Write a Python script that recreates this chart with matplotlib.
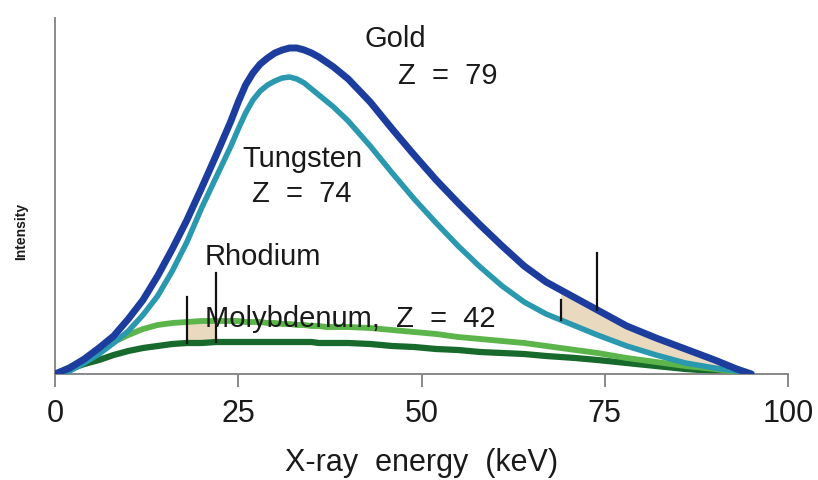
import numpy as np
import matplotlib
matplotlib.use("Agg")
import matplotlib.pyplot as plt

plt.rcParams['font.family'] = ['Liberation Sans', 'DejaVu Sans']

# energy grid (keV) and relative intensity
energy = [0, 2, 4, 6, 8, 10, 12, 14, 16, 18, 20, 22, 24, 25, 26, 27, 28, 29, 30, 31, 32, 33, 34,
          35, 36, 37, 38, 40, 43, 46, 49, 52, 55, 58, 61, 64, 67, 69, 71, 74, 78, 82, 86, 90, 93, 95]
gold = [0, 6, 15, 26, 38, 55, 74, 98, 125, 154, 186, 219, 253, 272, 289, 301, 310, 316, 321, 324, 326, 326, 324,
        321, 317, 312, 307, 295, 272, 245, 219, 194, 171, 149, 128, 108, 92, 84, 76, 64, 48, 36, 25, 14, 5, 0]
tungsten = [0, 3, 11, 20, 31, 43, 59, 78, 103, 132, 166, 197, 228, 245, 261, 274, 283, 289, 293, 296, 297, 295, 291,
            285, 279, 273, 267, 253, 228, 201, 175, 151, 128, 107, 88, 72, 60, 54, 48, 39, 28, 19, 11, 6, 3, 0]
rhodium = [0, 7, 15, 23, 32, 39, 45, 49, 51, 52, 53, 53, 53, 53, 52, 52, 52, 51, 51, 50, 50, 49, 49,
           48, 48, 47, 47, 47, 46, 44, 42, 40, 37, 35, 33, 31, 28, 26, 24, 21, 16, 12, 8, 5, 2, 0]
molybdenum = [0, 5, 10, 14, 19, 23, 26, 28, 30, 31, 31, 32, 32, 32, 32, 32, 32, 32, 32, 32, 32, 32, 32,
              32, 31, 31, 31, 31, 30, 28, 27, 25, 24, 22, 21, 20, 18, 17, 16, 14, 11, 8, 5, 3, 1, 0]

# characteristic edge markers: energy, top of the tick, curve it stands on
edge_energy = [18, 22, 69, 74]
edge_top = [77, 101, 74, 121]
edge_curve = ['molybdenum', 'molybdenum', 'tungsten', 'gold']

labels = ['Gold', 'Z  =  79', 'Tungsten', 'Z  =  74', 'Rhodium', 'Molybdenum,  Z  =  42']
label_x = [46.4, 53.6, 33.7, 33.6, 28.3, 40.3]
label_y = [327, 290, 207, 172, 109, 47]

x = np.array(energy)
series = {'gold': np.array(gold), 'tungsten': np.array(tungsten),
          'rhodium': np.array(rhodium), 'molybdenum': np.array(molybdenum)}

fig = plt.figure(figsize=(8.18, 4.8), dpi=100)
ax = fig.add_axes([55 / 818, 106 / 480, 733 / 818, 356 / 480])

fill_col = '#e8d9bf'
ax.fill_between(x, series['molybdenum'], series['rhodium'],
                where=(x >= 18) & (x <= 22), color=fill_col, lw=0, zorder=1)
ax.fill_between(x, series['tungsten'], series['gold'],
                where=(x >= 69), color=fill_col, lw=0, zorder=1)

ax.plot(x, series['molybdenum'], color='#176a2c', lw=4.5, solid_capstyle='round',
        solid_joinstyle='round', zorder=2)
ax.plot(x, series['rhodium'], color='#5cb54a', lw=4.2, solid_capstyle='round',
        solid_joinstyle='round', zorder=3)
ax.plot(x, series['tungsten'], color='#2a98ae', lw=4.0, solid_capstyle='round',
        solid_joinstyle='round', zorder=4)
ax.plot(x, series['gold'], color='#1d3d9e', lw=5.0, solid_capstyle='round',
        solid_joinstyle='round', zorder=5)

for e, top, name in zip(edge_energy, edge_top, edge_curve):
    base = series[name][energy.index(e)]
    ax.plot([e, e], [base, top], color='#111111', lw=1.6, zorder=6)

for t, lx, ly in zip(labels, label_x, label_y):
    ax.text(lx, ly, t, fontsize=21, ha='center', va='baseline', color='#1a1a1a', zorder=7)

ax.set_xlim(0, 100)
ax.set_ylim(0, 356)
ax.set_xticks([0, 25, 50, 75, 100])
ax.set_yticks([])
for s in ['top', 'right']:
    ax.spines[s].set_visible(False)
for s in ['left', 'bottom']:
    ax.spines[s].set_color('#808080')
    ax.spines[s].set_linewidth(1.3)
ax.tick_params(axis='x', direction='out', length=9, width=1.3, color='#808080',
               pad=9, labelsize=22, labelcolor='#1a1a1a')

ax.set_xlabel('X-ray  energy  (keV)', fontsize=22, color='#1a1a1a', labelpad=14)
ax.set_ylabel('Intensity', fontsize=10, fontweight='bold', color='#1a1a1a')
ax.yaxis.set_label_coords(-0.036, 0.40)

fig.savefig('out.png', dpi=100)
